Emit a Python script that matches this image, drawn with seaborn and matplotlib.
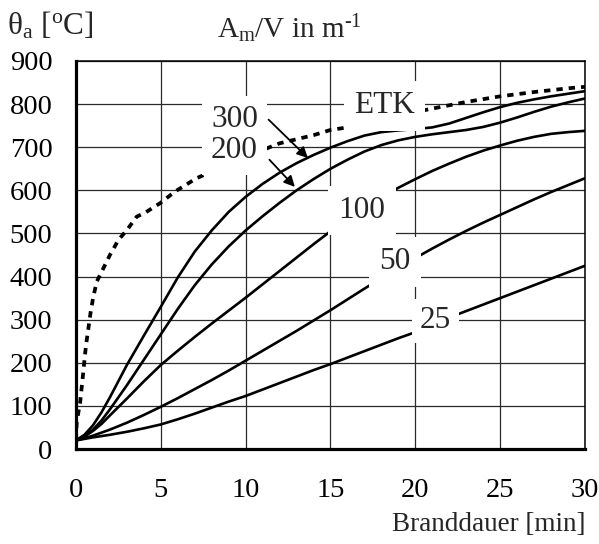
import matplotlib
matplotlib.use("Agg")
import matplotlib.pyplot as plt
import seaborn as sns
import pandas as pd

# ---------------- data ----------------
minutes = [0, 0.5, 1, 1.5, 2, 3, 4, 5, 6, 7, 8, 9, 10, 11, 12, 13, 14, 15,
           16, 17, 18, 19, 20, 21, 22, 23, 24, 25, 26, 27, 28, 29, 30]
steel_300 = [20, 33, 55, 85, 120, 195, 263, 330, 398, 458, 507, 550, 585, 615, 641, 663, 682, 699,
             714, 727, 735, 739, 742, 746, 755, 768, 781, 793, 803, 811, 818, 824, 830]
steel_200 = [20, 30, 45, 66, 92, 148, 207, 266, 325, 380, 428, 470, 507, 540, 571, 600, 626, 650,
             671, 690, 705, 716, 724, 730, 735, 740, 747, 757, 769, 782, 794, 804, 813]
steel_100 = [20, 29, 42, 58, 78, 117, 157, 195, 228, 260, 291, 321, 351, 382, 413, 444, 475, 505,
             533, 559, 584, 606, 626, 645, 662, 678, 692, 704, 715, 724, 731, 735, 738]
steel_50 = [20, 25, 31, 38, 45, 61, 79, 98, 118, 139, 160, 182, 205, 228, 251, 274, 298, 322,
            347, 372, 396, 419, 443, 465, 486, 506, 525, 543, 561, 579, 596, 612, 628]
steel_25 = [20, 23.5, 27, 30, 33, 40, 48, 57, 69, 82, 96, 110, 123, 138, 153, 168, 183, 197,
            212, 227, 242, 257, 271, 288, 305, 320, 335, 350, 365, 380, 395, 410, 425]
section_factors = ["300", "200", "100", "50", "25"]

etk_minutes = [0, 0.04, 0.24, 0.37, 0.49, 0.59, 0.73, 0.86, 1.02, 1.22, 1.61, 2.0, 2.5, 3.0,
               3.58, 4.07, 4.95, 5.83, 7.1, 8.5, 10, 12, 14, 15, 16, 18, 20.8, 23, 25, 27,
               29.1, 30]
etk_temps = [20, 63, 107, 156, 203, 241, 280, 317, 353, 388, 419, 450, 485, 508, 539, 548,
             570, 597, 628, 652, 678, 709, 728, 740, 746, 766, 788, 805, 818, 828, 837, 840]

x_ticks = [0, 5, 10, 15, 20, 25, 30]
y_ticks = [0, 100, 200, 300, 400, 500, 600, 700, 800, 900]

# ---------------- style ----------------
sns.set_theme(style="white")
plt.rcParams["font.family"] = ["Liberation Serif", "DejaVu Serif"]
plt.rcParams["mathtext.fontset"] = "custom"
plt.rcParams["mathtext.rm"] = "Liberation Serif"
plt.rcParams["mathtext.it"] = "Liberation Serif:italic"

fig = plt.figure(figsize=(5.99, 5.44), dpi=100)
ax = fig.add_axes([0.1269, 0.1746, 0.8497, 0.7133])

steel = pd.DataFrame({
    "t": minutes * 5,
    "T": steel_300 + steel_200 + steel_100 + steel_50 + steel_25,
    "Am/V": sum([[s] * len(minutes) for s in section_factors], []),
})
sns.lineplot(data=steel, x="t", y="T", hue="Am/V", palette=["black"] * 5,
             estimator=None, sort=False, linewidth=1.9, legend=False, ax=ax, zorder=3)

etk = pd.DataFrame({"t": etk_minutes, "T": etk_temps})
sns.lineplot(data=etk, x="t", y="T", color="black", linewidth=2.7, estimator=None,
             sort=False, ax=ax, zorder=3, linestyle=(0, (1.7, 1.6)))

ax.set_xlim(0, 30)
ax.set_ylim(0, 900)
ax.set_xticks(x_ticks)
ax.set_yticks(y_ticks)
ax.set_xlabel("")
ax.set_ylabel("")
ax.grid(True, color="#2a2a2a", linewidth=0.9)
ax.set_axisbelow(True)

for side in ["left", "bottom"]:
    ax.spines[side].set_linewidth(2.3)
    ax.spines[side].set_color("black")
for side in ["top", "right"]:
    ax.spines[side].set_linewidth(1.1)
    ax.spines[side].set_color("black")

ax.tick_params(axis="both", direction="out", length=7, width=1.8, colors="black",
               labelsize=20.5)
ax.tick_params(axis="y", pad=10)
ax.tick_params(axis="x", pad=14)

# ---------------- labels ----------------
box = dict(boxstyle="square,pad=0.33", facecolor="white", edgecolor="none")
ax.text(18.2, 796, "ETK", fontsize=22.5, ha="center", va="center", bbox=box, zorder=5)
ax.text(9.34, 728, "300\n200", fontsize=22.5, ha="center", va="center", linespacing=1.1,
        bbox=dict(boxstyle="square,pad=0.3", facecolor="white", edgecolor="none"), zorder=5)
ax.text(16.85, 553, "100", fontsize=22.5, ha="center", va="center", bbox=box, zorder=5)
ax.text(18.8, 434, "50", fontsize=22.5, ha="center", va="center", bbox=box, zorder=5)
ax.text(21.2, 297, "25", fontsize=22.5, ha="center", va="center",
        bbox=dict(boxstyle="square,pad=0.25", facecolor="white", edgecolor="none"), zorder=5)

arrow = dict(arrowstyle="-|>", color="black", lw=1.3, mutation_scale=16, shrinkA=0, shrinkB=0)
ax.annotate("", xy=(13.67, 675), xytext=(11.35, 764), arrowprops=arrow, zorder=6)
ax.annotate("", xy=(12.9, 608), xytext=(11.4, 671), arrowprops=arrow, zorder=6)

fig.text(0.012, 0.952, r"θ$_\mathregular{a}$ [$^\mathregular{o}$C]", fontsize=22.5,
         ha="left", va="center")
fig.text(0.362, 0.948, r"A$_\mathregular{m}$/V in m$^{\text{-1}}$", fontsize=21,
         ha="left", va="center")
fig.text(0.977, 0.036, "Branddauer [min]", fontsize=19.5, ha="right", va="center")

fig.savefig("out.png", dpi=100, facecolor="white")
